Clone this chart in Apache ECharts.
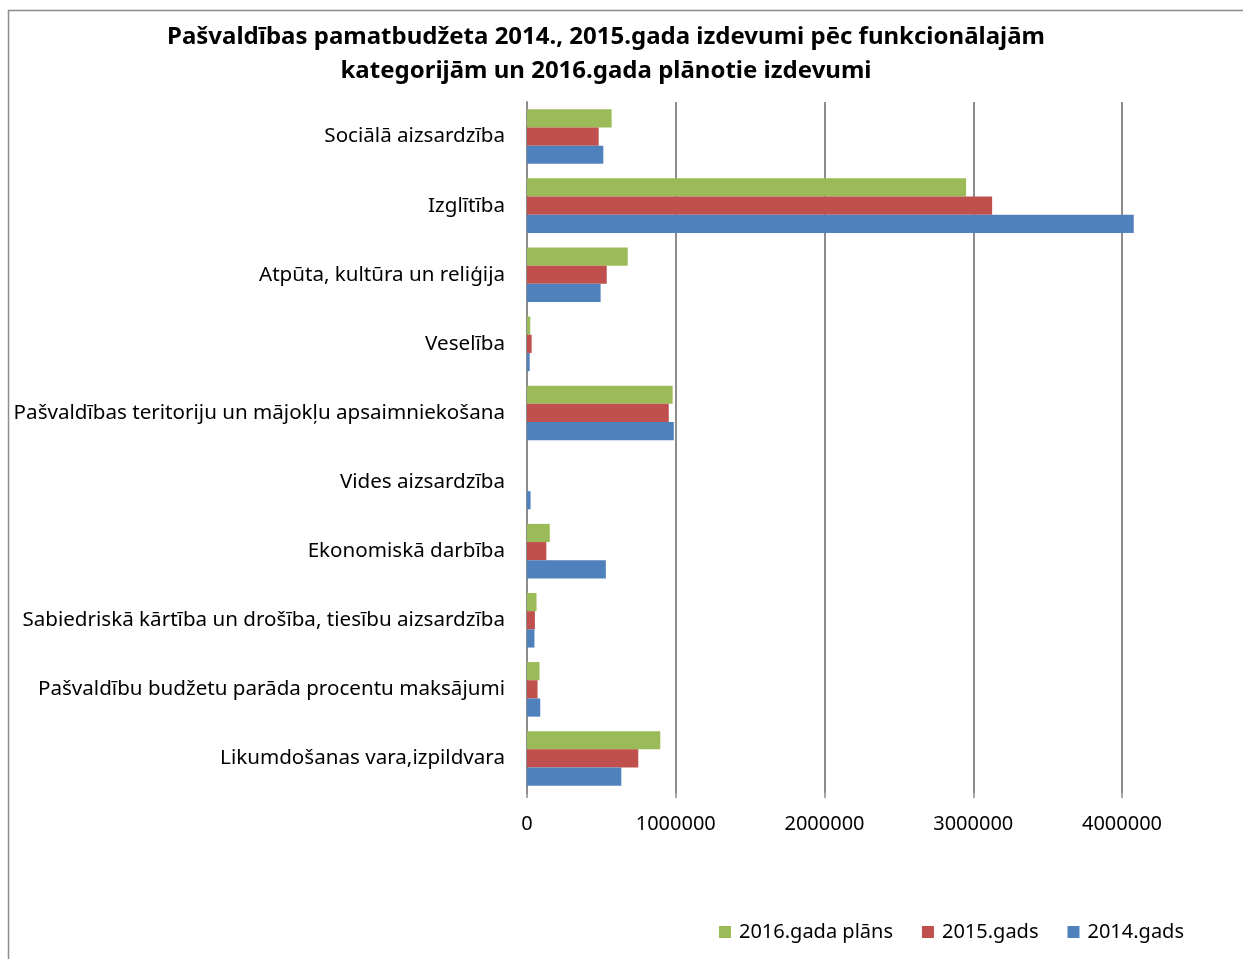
<!DOCTYPE html>
<html>
<head>
<meta charset="utf-8">
<script src="https://cdn.jsdelivr.net/npm/echarts@6/dist/echarts.min.js"></script>
<style>
    html, body { margin: 0; padding: 0; background: #fff; }
    #chart { width: 1243px; height: 959px; }
</style>
</head>
<body>
<div id="chart"></div>
<script>
// categories listed bottom to top (category axis starts at the bottom)
const categories = [
    'Likumdošanas vara,izpildvara',
    'Pašvaldību budžetu parāda procentu maksājumi',
    'Sabiedriskā kārtība un drošība, tiesību aizsardzība',
    'Ekonomiskā darbība',
    'Vides aizsardzība',
    'Pašvaldības teritoriju un mājokļu apsaimniekošana',
    'Veselība',
    'Atpūta, kultūra un reliģija',
    'Izglītība',
    'Sociālā aizsardzība'
];
const values2016 = [896000, 84000, 64000, 153000, 0, 979000, 22000, 677000, 2952000, 569000];
const values2015 = [748000, 71000, 53000, 130000, 0, 953000, 31000, 536000, 3127000, 482000];
const values2014 = [634000, 89000, 50000, 530000, 24000, 987000, 18000, 495000, 4079000, 513000];
const seriesNames = ['2016.gada plāns', '2015.gads', '2014.gads'];
const xTicks = [0, 1000000, 2000000, 3000000, 4000000];

const font = '"Noto Sans", "Open Sans", sans-serif';
const colors = ['#9BBB59', '#C0504D', '#4F81BD'];

document.addEventListener('DOMContentLoaded', () => {
    const chart = echarts.init(document.getElementById('chart'));
    const seriesData = [values2016, values2015, values2014];

    const option = {
        animation: false,
        color: colors,
        textStyle: { fontFamily: font },
        graphic: [{
            type: 'rect',
            shape: { x: 8.5, y: 10.5, width: 1300, height: 1000 },
            style: { fill: 'none', stroke: '#8c8c8c', lineWidth: 1.5 },
            silent: true
        }],
        title: {
            text: 'Pašvaldības pamatbudžeta 2014., 2015.gada izdevumi pēc funkcionālajām\nkategorijām un 2016.gada plānotie izdevumi',
            left: 601,
            textAlign: 'center',
            top: 15,
            textStyle: { fontFamily: font, fontSize: 24, fontWeight: 'bold', color: '#000', lineHeight: 34 }
        },
        legend: {
            data: seriesNames,
            right: 54,
            top: 917,
            itemWidth: 12,
            itemHeight: 12,
            itemGap: 29,
            icon: 'rect',
            textStyle: { fontFamily: font, fontSize: 20, color: '#000', padding: [0, 0, 0, 3] }
        },
        grid: { left: 527, right: 121, top: 102, bottom: 166, containLabel: false },
        xAxis: {
            type: 'value',
            min: 0,
            max: xTicks[xTicks.length - 1],
            interval: 1000000,
            axisLine: { show: false },
            axisTick: { show: true, length: 5, lineStyle: { color: '#8c8c8c', width: 1.5 } },
            axisLabel: { fontFamily: font, fontSize: 20, color: '#000', margin: 21, formatter: v => String(v) },
            splitLine: { show: true, lineStyle: { color: '#8c8c8c', width: 2 } }
        },
        yAxis: {
            type: 'category',
            data: categories,
            axisLine: { show: true, lineStyle: { color: '#8c8c8c', width: 2 } },
            axisTick: { show: false },
            axisLabel: { fontFamily: font, fontSize: 20.6, color: '#000', margin: 22 }
        },
        series: seriesNames.map((name, i) => ({
            name: name,
            type: 'bar',
            data: seriesData[i],
            barGap: '0%',
            barCategoryGap: '21%',
            clip: false,
            itemStyle: { color: colors[i] }
        }))
    };
    chart.setOption(option);
});
</script>
</body>
</html>
